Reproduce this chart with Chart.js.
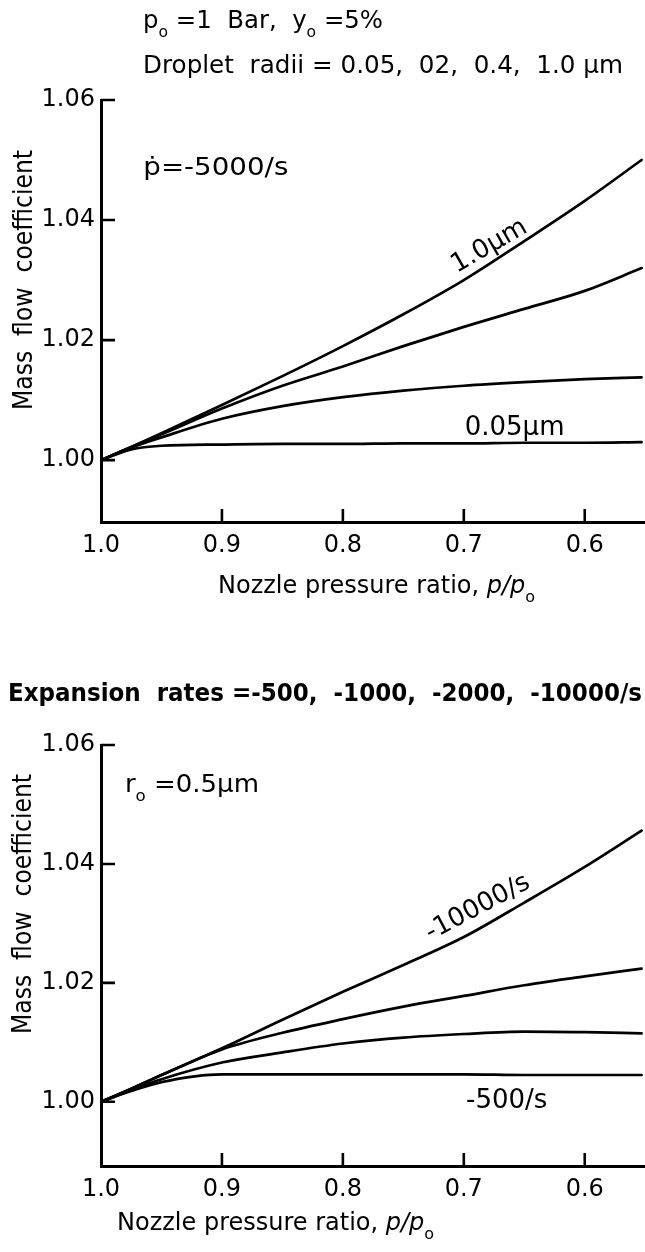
<!DOCTYPE html>
<html>
<head>
<meta charset="utf-8">
<script src="https://cdn.jsdelivr.net/npm/chart.js@4.4.0/dist/chart.umd.min.js"></script>
<style>
  html, body { margin: 0; padding: 0; background: #fff; }
  .panel { position: absolute; left: 0; width: 645px; height: 626px; }
</style>
</head>
<body>
<div class="panel" style="top:0"><canvas id="radiiChart" width="645" height="626"></canvas></div>
<div class="panel" style="top:626px"><canvas id="ratesChart" width="645" height="626"></canvas></div>
<script>
// Nozzle pressure ratio p/p0 (x) sampled for every curve
const pressureRatio = [1.0, 0.975, 0.95, 0.9, 0.85, 0.8, 0.75, 0.7, 0.65, 0.6, 0.553];

// top: droplet radii, pdot = -5000/s
const radius10 = [1.0000, 1.0022, 1.0045, 1.0092, 1.0140, 1.0190, 1.0243, 1.0300, 1.0365, 1.0432, 1.0500];
const radius04 = [1.0000, 1.0022, 1.0043, 1.0086, 1.0124, 1.0156, 1.0190, 1.0222, 1.0252, 1.0282, 1.0320];
const radius02 = [1.0000, 1.0021, 1.0038, 1.0069, 1.0090, 1.0105, 1.0116, 1.0124, 1.0130, 1.0135, 1.0138];
const radius005 = [1.0000, 1.0018, 1.0024, 1.0026, 1.0027, 1.0027, 1.0028, 1.0028, 1.0029, 1.0029, 1.0030];

// bottom: expansion rates, r0 = 0.5 um
const rate10000 = [1.0000, 1.0022, 1.0045, 1.0090, 1.0138, 1.0185, 1.0230, 1.0277, 1.0335, 1.0395, 1.0456];
const rate2000 = [1.0000, 1.0022, 1.0045, 1.0088, 1.0116, 1.0139, 1.0160, 1.0178, 1.0196, 1.0211, 1.0224];
const rate1000 = [1.0000, 1.0020, 1.0038, 1.0066, 1.0083, 1.0098, 1.0108, 1.0114, 1.0118, 1.0117, 1.0115];
const rate500 = [1.0000, 1.0018, 1.0033, 1.0046, 1.0046, 1.0046, 1.0046, 1.0046, 1.0045, 1.0045, 1.0045];

const xTicks = [1.0, 0.9, 0.8, 0.7, 0.6];
const yTicks = [1.00, 1.02, 1.04, 1.06];

const FONT = '"DejaVu Sans", sans-serif';
Chart.defaults.font.family = FONT;
Chart.defaults.color = '#000';

const fontFor = (kind, size, bold) => {
	const sz = kind === 's' ? Math.round(size * 0.65) : size;
	return `${kind === 'i' ? 'italic ' : ''}${bold ? 'bold ' : ''}${sz}px ${FONT}`;
};

// writes a line made of parts: n = normal, i = italic, s = subscript
const writeText = (ctx, parts, x, y, o) => {
	const size = o.size || 24;
	ctx.save();
	ctx.fillStyle = '#000';
	ctx.textBaseline = 'alphabetic';
	ctx.textAlign = 'left';
	let total = 0;
	const widths = parts.map(([t, k]) => {
		ctx.font = fontFor(k, size, o.bold);
		const w = ctx.measureText(t).width;
		total += w;
		return w;
	});
	ctx.translate(x, y);
	if (o.rotate) ctx.rotate(o.rotate * Math.PI / 180);
	if (o.width) ctx.scale(o.width / total, 1);
	let cx = o.align === 'center' ? -total / 2 : 0;
	const cy = o.vcenter ? size * 0.36 : 0;
	parts.forEach(([t, k], i) => {
		ctx.font = fontFor(k, size, o.bold);
		ctx.fillText(t, cx, cy + (k === 's' ? size * 0.36 : 0));
		cx += widths[i];
	});
	ctx.restore();
};

const inwardTicks = {
	id: 'inwardTicks',
	afterDraw(chart) {
		const { ctx, chartArea, scales: { x, y } } = chart;
		ctx.save();
		ctx.strokeStyle = '#000';
		ctx.lineWidth = 2.6;
		ctx.beginPath();
		xTicks.slice(1).forEach(v => {
			const px = x.getPixelForValue(v);
			ctx.moveTo(px, chartArea.bottom);
			ctx.lineTo(px, chartArea.bottom - 13);
		});
		yTicks.forEach(v => {
			const py = y.getPixelForValue(v);
			ctx.moveTo(chartArea.left, py);
			ctx.lineTo(chartArea.left + 14, py);
		});
		ctx.stroke();
		ctx.restore();
	}
};

const notesPlugin = (notes) => ({
	id: 'notes',
	afterDraw(chart) {
		const { ctx, scales: { x, y } } = chart;
		notes.forEach(n => {
			let px, py;
			if (n.at) {
				px = x.getPixelForValue(n.at[0]);
				py = y.getPixelForValue(n.at[1]);
			} else {
				[px, py] = n.px;
			}
			writeText(ctx, n.parts, px, py, n);
		});
	}
});

const series = (values) => ({
	data: values.map((v, i) => ({ x: pressureRatio[i], y: v })),
	borderColor: '#000',
	borderWidth: 2.7,
	pointRadius: 0,
	cubicInterpolationMode: 'monotone',
	borderCapStyle: 'round',
	borderJoinStyle: 'round'
});

const createChart = (canvasId, lines, yMin, topPad, xHeight, notes) => {
	const ctx = document.getElementById(canvasId).getContext('2d');
	return new Chart(ctx, {
		type: 'line',
		data: { datasets: lines.map(series) },
		options: {
			responsive: false,
			animation: false,
			devicePixelRatio: 1,
			layout: { padding: { top: topPad, right: 1, left: 0, bottom: 0 } },
			plugins: { legend: { display: false }, tooltip: { enabled: false } },
			scales: {
				x: {
					type: 'linear',
					reverse: true,
					min: 0.551,
					max: 1.0,
					afterBuildTicks: s => { s.ticks = xTicks.map(v => ({ value: v })); },
					afterFit: s => { s.height = xHeight; },
					grid: { display: false, drawTicks: false },
					border: { display: true, color: '#000', width: 3 },
					ticks: {
						autoSkip: false,
						maxRotation: 0,
						padding: 9,
						font: { size: 24 },
						callback: v => v.toFixed(1)
					}
				},
				y: {
					type: 'linear',
					min: yMin,
					max: 1.06,
					afterBuildTicks: s => { s.ticks = yTicks.map(v => ({ value: v })); },
					afterFit: s => { s.width = 101; },
					grid: { display: false, drawTicks: false },
					border: { display: true, color: '#000', width: 3 },
					ticks: {
						padding: 6,
						font: { size: 24 },
						callback: v => v.toFixed(2)
					}
				}
			}
		},
		plugins: [inwardTicks, notesPlugin(notes)]
	});
};

const radiiNotes = [
	{ parts: [['p', 'n'], ['o', 's'], [' =1  Bar,  y', 'n'], ['o', 's'], [' =5%', 'n']], px: [143, 28], size: 25, width: 240 },
	{ parts: [['Droplet  radii = 0.05,  02,  0.4,  1.0 µm', 'n']], px: [143, 73], size: 25, width: 480 },
	{ parts: [['ṗ=-5000/s', 'n']], at: [0.965, 1.0475], size: 25, width: 145 },
	{ parts: [['1.0µm', 'n']], at: [0.68, 1.036], size: 26, rotate: -30, align: 'center', vcenter: true },
	{ parts: [['0.05µm', 'n']], at: [0.658, 1.0057], size: 26, align: 'center', vcenter: true },
	{ parts: [['Nozzle pressure ratio, ', 'n'], ['p/p', 'i'], ['o', 's']], px: [218, 593], size: 24 },
	{ parts: [['Mass  flow  coefficient', 'n']], px: [23, 280], size: 26, rotate: -90, align: 'center', vcenter: true, width: 260 }
];

const ratesNotes = [
	{ parts: [['Expansion  rates =-500,  -1000,  -2000,  -10000/s', 'n']], px: [325, 75], size: 24, bold: true, align: 'center', width: 634 },
	{ parts: [['r', 'n'], ['o', 's'], [' =0.5µm', 'n']], at: [0.9802, 1.0521], size: 25, width: 134 },
	{ parts: [['-10000/s', 'n']], at: [0.6895, 1.0330], size: 26, rotate: -28, align: 'center', vcenter: true },
	{ parts: [['-500/s', 'n']], at: [0.6645, 1.0005], size: 26, align: 'center', vcenter: true },
	{ parts: [['Nozzle pressure ratio, ', 'n'], ['p/p', 'i'], ['o', 's']], px: [117, 604], size: 24 },
	{ parts: [['Mass  flow  coefficient', 'n']], px: [22, 278], size: 26, rotate: -90, align: 'center', vcenter: true, width: 260 }
];

createChart('radiiChart', [radius10, radius04, radius02, radius005], 0.9897, 100, 104, radiiNotes);
createChart('ratesChart', [rate10000, rate2000, rate1000, rate500], 0.9892, 119, 86, ratesNotes);
</script>
</body>
</html>
